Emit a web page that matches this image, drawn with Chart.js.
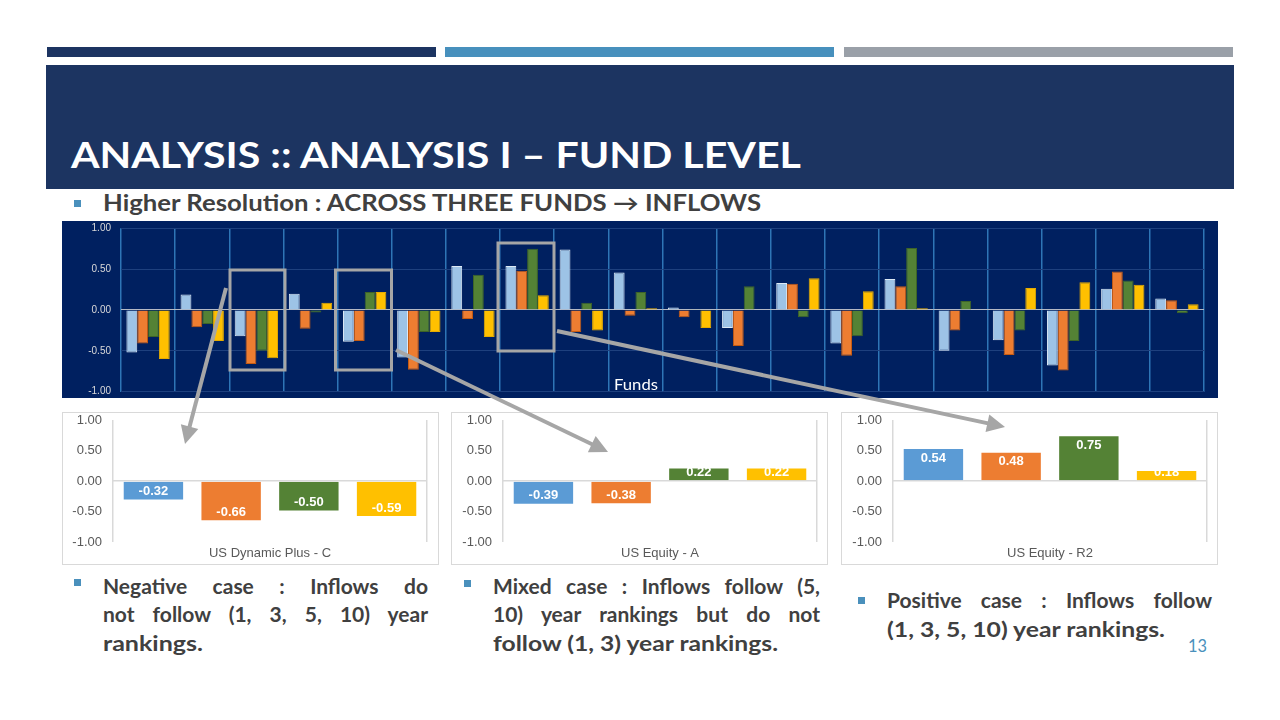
<!DOCTYPE html>
<html><head><meta charset="utf-8">
<script src="https://cdn.jsdelivr.net/npm/chart.js@4.4.1/dist/chart.umd.min.js"></script>
<style>
html,body{margin:0;padding:0;background:#fff;}
#slide{position:relative;width:1280px;height:720px;overflow:hidden;background:#fff;font-family:Lato,'Open Sans',sans-serif;}
.blk{position:absolute;}
.txt{position:absolute;white-space:nowrap;line-height:1;transform-origin:0 0;}
.bul{position:absolute;width:7px;height:7px;background:#4A90BC;}
.box{position:absolute;width:377px;height:153px;border:1px solid #D9D9D9;box-sizing:border-box;background:#fff;}
.clip{position:absolute;left:0;top:0;right:0;bottom:0;overflow:hidden;}
.clip canvas{position:absolute;left:0;top:-20px;}
</style></head><body>
<div id="slide">
  <div class="blk" style="left:47px;top:47px;width:389px;height:10px;background:#1C3461"></div>
  <div class="blk" style="left:445px;top:47px;width:389px;height:10px;background:#4790BD"></div>
  <div class="blk" style="left:844px;top:47px;width:389px;height:10px;background:#9AA0A8"></div>
  <div class="blk" style="left:46px;top:65px;width:1188px;height:124px;background:#1C3461"></div>
  <div class="bul" style="left:74px;top:200px"></div>
  <div class="blk" style="left:62px;top:221px;width:1156px;height:177px;background:#002060">
    <div class="clip"><canvas id="mainC" width="1156" height="217" style="width:1156px;height:217px"></canvas></div>
  </div>
  <div class="box" style="left:62px;top:412px"><div class="clip"><canvas id="s1" width="375" height="191" style="width:375px;height:191px"></canvas></div></div>
  <div class="box" style="left:451px;top:412px"><div class="clip"><canvas id="s2" width="375" height="191" style="width:375px;height:191px"></canvas></div></div>
  <div class="box" style="left:841px;top:412px"><div class="clip"><canvas id="s3" width="375" height="191" style="width:375px;height:191px"></canvas></div></div>
  <div class="bul" style="left:74px;top:579px"></div>
  <div class="bul" style="left:464px;top:580px"></div>
  <div class="bul" style="left:858px;top:597px"></div>
  <svg id="ann" width="1280" height="720" style="position:absolute;left:0;top:0;pointer-events:none">
    <g fill="none" stroke="#A6A6A6" stroke-width="3">
      <rect x="230" y="270" width="55" height="100"/>
      <rect x="335.5" y="270" width="56" height="100"/>
      <rect x="498" y="243" width="56" height="108"/>
    </g>
  </svg>
</div>
<script>
// ---------- data ----------
const fundLabels = ['Fund 1','Fund 2','US Dynamic Plus - C','Fund 4','US Equity - A','Fund 6','Fund 7','US Equity - R2','Fund 9','Fund 10','Fund 11','Fund 12','Fund 13','Fund 14','Fund 15','Fund 16','Fund 17','Fund 18','Fund 19','Fund 20'];
const seriesNames = ['1 Year','3 Year','5 Year','10 Year'];
const rank1y  = [-0.52, 0.19,-0.32, 0.20,-0.39,-0.58, 0.54, 0.54, 0.74, 0.46, 0.03,-0.22, 0.33,-0.41, 0.38,-0.50,-0.37,-0.68, 0.26, 0.14];
const rank3y  = [-0.41,-0.21,-0.66,-0.23,-0.38,-0.73,-0.11, 0.48,-0.27,-0.07,-0.09,-0.44, 0.32,-0.56, 0.29,-0.25,-0.55,-0.74, 0.47, 0.12];
const rank5y  = [-0.33,-0.17,-0.50,-0.03, 0.22,-0.27, 0.43, 0.75, 0.09, 0.22, 0.01, 0.29,-0.09,-0.32, 0.76, 0.11,-0.25,-0.38, 0.36,-0.04];
const rank10y = [-0.60,-0.38,-0.59, 0.09, 0.22,-0.27,-0.33, 0.18,-0.25, 0.02,-0.22, 0.00, 0.39, 0.23, 0.02, 0.00, 0.27, 0.34, 0.31, 0.07];
const smallCats = ['US Dynamic Plus - C','US Equity - A','US Equity - R2'];
const dynamicPlusC = [-0.32,-0.66,-0.50,-0.59];
const equityA      = [-0.39,-0.38, 0.22, 0.22];
const equityR2     = [ 0.54, 0.48, 0.75, 0.18];
const yTickValues = [-1,-0.5,0,0.5,1];

// ---------- styles ----------
const mainColors  = ['#9DC3E6','#ED7D31','#548235','#FFC000'];
const mainBorders = ['#DCE9F5','#C55A11','#3E6428','#E6AC00'];
const smallColors = ['#5B9BD5','#ED7D31','#548235','#FFC000'];
const AR = '"Liberation Sans", Arial, sans-serif';

// adjust layout padding so that the plot area lands exactly where wanted
function fitArea(chart, want) {
  for (let k = 0; k < 4; k++) {
    const a = chart.chartArea, p = chart.options.layout.padding;
    p.top += want.top - a.top;
    p.bottom += a.bottom - want.bottom;
    p.left += want.left - a.left;
    p.right += a.right - want.right;
    chart.update('none');
  }
}

const mainChart = new Chart(document.getElementById('mainC'), {
  type: 'bar',
  data: {
    labels: fundLabels,
    datasets: [rank1y, rank3y, rank5y, rank10y].map((d, i) => ({
      label: seriesNames[i], data: d, backgroundColor: mainColors[i], borderColor: mainBorders[i],
      borderWidth: 1, categoryPercentage: 0.8, barPercentage: 1.0
    }))
  },
  options: {
    responsive: false, animation: false,
    layout: { padding: { top: 20, right: 14, bottom: 20, left: 0 } },
    plugins: { legend: { display: false }, tooltip: { enabled: false } },
    scales: {
      x: { ticks: { display: false }, grid: { color: '#2E75B6', lineWidth: 1.5, drawTicks: false, offset: true },
           border: { display: false }, afterFit: s => { s.height = 0; } },
      y: { min: -1, max: 1,
           afterBuildTicks: s => { s.ticks = yTickValues.map(v => ({ value: v })); },
           ticks: { color: '#D9D9D9', font: { size: 10, family: AR }, padding: 10, callback: v => Number(v).toFixed(2) },
           grid: { color: c => (c.tick && c.tick.value === 0) ? '#B4B9C4' : '#1E407E', lineWidth: 1, drawTicks: false },
           border: { display: false }, afterFit: s => { s.width = 59; } }
    }
  }
});
fitArea(mainChart, { left: 59, top: 27.3, right: 1142, bottom: 190.7 });

const valueLabels = {
  id: 'valueLabels',
  afterDatasetsDraw(chart) {
    const ctx = chart.ctx;
    ctx.save();
    ctx.font = 'bold 13px ' + AR;
    ctx.fillStyle = '#FFFFFF';
    ctx.textAlign = 'center';
    ctx.textBaseline = 'middle';
    chart.data.datasets.forEach((ds, i) => {
      chart.getDatasetMeta(i).data.forEach((bar, j) => {
        const v = ds.data[j];
        const y = v >= 0 ? Math.min(bar.y + 10, bar.base - 8) : Math.max(bar.y - 9, bar.base + 8);
        ctx.fillText(v.toFixed(2), bar.x, y);
      });
    });
    ctx.restore();
  }
};

function makeSmall(id, cat, values, left) {
  const ch = new Chart(document.getElementById(id), {
    type: 'bar',
    data: {
      labels: [cat],
      datasets: values.map((v, i) => ({
        label: seriesNames[i], data: [v], backgroundColor: smallColors[i], borderColor: '#FFFFFF',
        borderWidth: 1, categoryPercentage: 0.99, barPercentage: 0.79
      }))
    },
    options: {
      responsive: false, animation: false,
      layout: { padding: { top: 20, right: 10, bottom: 20, left: 0 } },
      plugins: { legend: { display: false }, tooltip: { enabled: false } },
      scales: {
        x: { ticks: { color: '#595959', font: { size: 13, family: AR }, padding: 4 },
             grid: { color: '#D9D9D9', lineWidth: 1.5, drawTicks: false, offset: true },
             border: { display: false }, afterFit: s => { s.height = 21; } },
        y: { min: -1, max: 1,
             afterBuildTicks: s => { s.ticks = yTickValues.map(v => ({ value: v })); },
             ticks: { color: '#595959', font: { size: 13, family: AR }, padding: 11, callback: v => Number(v).toFixed(2) },
             grid: { color: c => (c.tick && c.tick.value === 0) ? '#D9D9D9' : 'rgba(0,0,0,0)', lineWidth: 1.5, drawTicks: false },
             border: { display: false }, afterFit: s => { s.width = 50; } }
      }
    },
    plugins: [valueLabels]
  });
  fitArea(ch, { left: left, top: 27, right: left + 314, bottom: 149 });
}
makeSmall('s1', smallCats[0], dynamicPlusC, 50);
makeSmall('s2', smallCats[1], equityA, 51);
makeSmall('s3', smallCats[2], equityR2, 51);

// ---------- text ----------
const slide = document.getElementById('slide');
function addText(text, x, cy, w, size, color, weight, justify) {
  const s = document.createElement('span');
  s.className = 'txt';
  s.textContent = text;
  s.style.fontSize = size + 'px';
  s.style.color = color;
  s.style.fontWeight = weight;
  s.style.left = x + 'px';
  s.style.top = (cy - 0.527 * size) + 'px';
  slide.insertBefore(s, document.getElementById('ann'));
  const nat = s.getBoundingClientRect().width;
  if (w) {
    const n = (text.match(/ /g) || []).length;
    if (justify && nat < w && n) s.style.wordSpacing = ((w - nat) / n) + 'px';
    else s.style.transform = 'scaleX(' + (w / nat) + ')';
  }
  return s;
}
addText('ANALYSIS :: ANALYSIS I – FUND LEVEL', 71, 154.5, 730, 37, '#FFFFFF', 700);
addText('Higher Resolution : ACROSS THREE FUNDS \u2192 INFLOWS', 103, 203.5, 658, 22, '#404040', 700);
addText('Funds', 614, 385, 44, 15, '#FFFFFF', 400);
const TC = '#404040';
addText('Negative case : Inflows do', 103, 586, 325, 21, TC, 700, true);
addText('not follow (1, 3, 5, 10) year', 103, 614.5, 325, 21, TC, 700, true);
addText('rankings.', 103, 643, 100, 21, TC, 700);
addText('Mixed case : Inflows follow (5,', 493, 586, 327, 21, TC, 700, true);
addText('10) year rankings but do not', 493, 614.5, 327, 21, TC, 700, true);
addText('follow (1, 3) year rankings.', 493, 643, 285, 21, TC, 700);
addText('Positive case : Inflows follow', 887, 600, 325, 21, TC, 700, true);
addText('(1, 3, 5, 10) year rankings.', 887, 629, 278, 21, TC, 700);
addText('13', 1188, 645, 19, 18, '#4A90BC', 400);

// ---------- annotation arrows ----------
const svgNS = 'http://www.w3.org/2000/svg';
const ann = document.getElementById('ann');
function arrow(x1, y1, x2, y2) {
  const L = 18, W = 9;
  const dx = x2 - x1, dy = y2 - y1, len = Math.hypot(dx, dy);
  const ux = dx / len, uy = dy / len;
  const bx = x2 - ux * L, by = y2 - uy * L;
  const line = document.createElementNS(svgNS, 'line');
  line.setAttribute('x1', x1); line.setAttribute('y1', y1);
  line.setAttribute('x2', bx + ux * 2); line.setAttribute('y2', by + uy * 2);
  line.setAttribute('stroke', '#A6A6A6'); line.setAttribute('stroke-width', '4');
  ann.appendChild(line);
  const p = document.createElementNS(svgNS, 'polygon');
  p.setAttribute('points', `${x2},${y2} ${bx - uy * W},${by + ux * W} ${bx + uy * W},${by - ux * W}`);
  p.setAttribute('fill', '#A6A6A6');
  ann.appendChild(p);
}
arrow(226, 288, 185, 444);
arrow(396, 350, 608, 452);
arrow(557, 331, 1005, 427);
</script>
</body></html>
